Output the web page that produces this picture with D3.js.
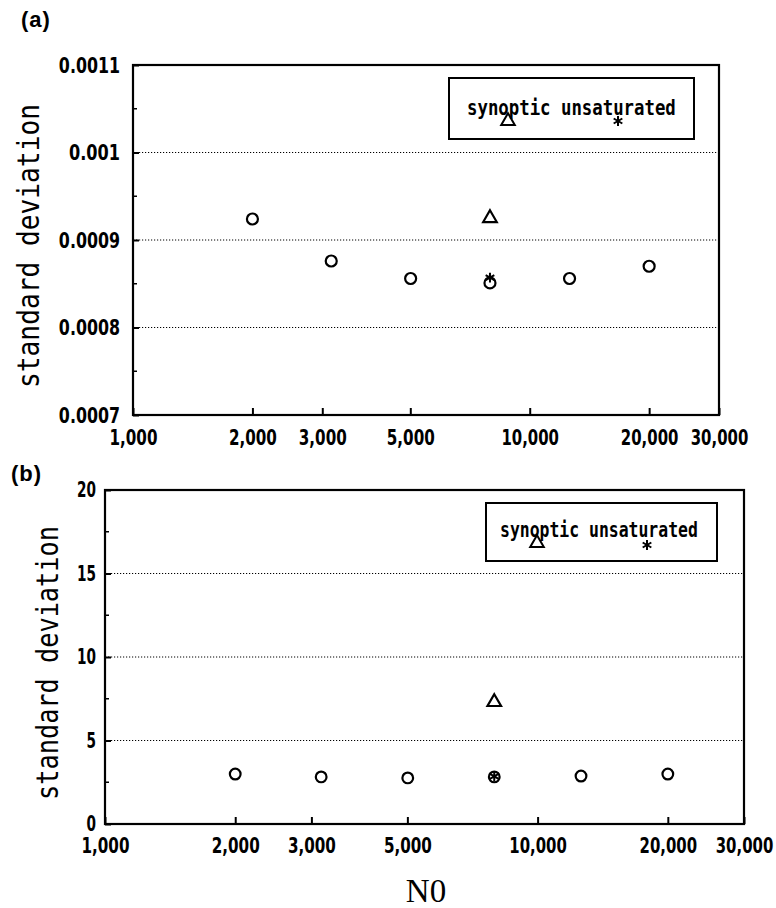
<!DOCTYPE html>
<html><head><meta charset="utf-8">
<script src="https://cdn.jsdelivr.net/npm/d3@7"></script>
<style>
html,body{margin:0;padding:0;background:#fff;}
svg{display:block;}
</style></head>
<body>
<svg id="chart" width="776" height="908"></svg>
<script>
// ---------- data ----------
const n0 = [2000, 3160, 5010, 7940, 12600, 20000];
const xTicks = [1000, 2000, 3000, 5000, 10000, 20000, 30000];
const xTickLabels = ["1,000", "2,000", "3,000", "5,000", "10,000", "20,000", "30,000"];

// panel (a)
const sdA_unsat = [0.000924, 0.000876, 0.000856, 0.000851, 0.000856, 0.00087];
const sdA_synX = [7940];
const sdA_syn = [0.000925];
const sdA_starX = [7940];
const sdA_star = [0.000857];
const yTicksA = [0.0007, 0.0008, 0.0009, 0.001, 0.0011];
const yTickLabelsA = ["0.0007", "0.0008", "0.0009", "0.001", "0.0011"];
const yMinorA = [0.00075, 0.00085, 0.00095, 0.00105];

// panel (b)
const sdB_unsat = [2.99, 2.82, 2.76, 2.82, 2.87, 2.99];
const sdB_synX = [7940];
const sdB_syn = [7.3];
const sdB_starX = [7940];
const sdB_star = [2.85];
const yTicksB = [0, 5, 10, 15, 20];
const yTickLabelsB = ["0", "5", "10", "15", "20"];
const yMinorB = [2.5, 7.5, 12.5, 17.5];

const legendText = "synoptic unsaturated";
const yTitle = "standard deviation";
const xTitle = "N0";

// ---------- drawing ----------
const svg = d3.select("#chart");
const tickFont = "'DejaVu Sans','Liberation Sans',sans-serif";

// horizontally condense a text element to a target width using a transform
function condense(node, target, base) {
  const w = node.getComputedTextLength();
  const s = Math.min(1, target / w);
  const t = d3.select(node);
  const x = +(t.attr("x") || 0);
  t.attr("x", x / s).attr("transform", (base ? base + " " : "") + `scale(${s},1)`);
}
function squeeze(sel, charW) {
  sel.each(function () { condense(this, this.textContent.length * charW); });
}

function panel(cfg) {
  const x = d3.scaleLog().domain([1000, 30000]).range([cfg.left, cfg.right]);
  const y = d3.scaleLinear().domain(cfg.yDomain).range([cfg.bottom, cfg.top]);
  const g = svg.append("g");

  // gridlines (dotted)
  g.append("g").selectAll("line").data(cfg.yTicks.slice(1, -1)).join("line")
    .attr("x1", cfg.left).attr("x2", cfg.right)
    .attr("y1", d => y(d)).attr("y2", d => y(d))
    .attr("stroke", "#000").attr("stroke-width", 1)
    .attr("stroke-dasharray", "1.2,1.8");

  // x axis
  const xa = g.append("g").attr("transform", `translate(0,${cfg.bottom})`)
    .call(d3.axisBottom(x).tickValues(xTicks)
      .tickFormat((d, i) => xTickLabels[i])
      .tickSizeInner(-7).tickSizeOuter(0).tickPadding(cfg.xPad));
  xa.select(".domain").remove();
  xa.selectAll("line").attr("stroke-width", 2);
  xa.selectAll("text").attr("font-family", tickFont).attr("font-size", cfg.xFont)
    .attr("font-weight", "bold").attr("fill", "#000");
  squeeze(xa.selectAll("text"), cfg.xCharW);

  // y axis
  const ya = g.append("g").attr("transform", `translate(${cfg.left},0)`)
    .call(d3.axisLeft(y).tickValues(cfg.yTicks)
      .tickFormat((d, i) => cfg.yLabels[i])
      .tickSizeInner(-6).tickSizeOuter(0).tickPadding(cfg.yPad));
  ya.select(".domain").remove();
  ya.selectAll("line").attr("stroke-width", 2);
  ya.selectAll("text").attr("font-family", tickFont).attr("font-size", cfg.yFont)
    .attr("font-weight", "bold").attr("fill", "#000");
  squeeze(ya.selectAll("text"), cfg.yCharW);

  // minor y ticks
  g.append("g").selectAll("line").data(cfg.yMinor).join("line")
    .attr("x1", cfg.left).attr("x2", cfg.left + 4)
    .attr("y1", d => y(d)).attr("y2", d => y(d))
    .attr("stroke", "#000").attr("stroke-width", 1.5);

  // frame
  g.append("rect").attr("x", cfg.left).attr("y", cfg.top)
    .attr("width", cfg.right - cfg.left).attr("height", cfg.bottom - cfg.top)
    .attr("fill", "none").attr("stroke", "#000").attr("stroke-width", 2.2);

  // y title
  const yt = g.append("text")
    .attr("text-anchor", "middle")
    .attr("font-family", "'DejaVu Sans Mono','Liberation Mono',monospace")
    .attr("font-size", 30).attr("fill", "#000")
    .text(yTitle);
  condense(yt.node(), cfg.titleLen, `translate(${cfg.titleX},${cfg.titleY}) rotate(-90)`);

  // panel label
  g.append("text").attr("x", cfg.labX).attr("y", cfg.labY)
    .attr("font-family", "'Liberation Sans',Arial,sans-serif").attr("font-weight", "bold")
    .attr("font-size", 22).attr("letter-spacing", 1).attr("fill", "#000").text(cfg.label);

  // legend
  const L = cfg.legend;
  g.append("rect").attr("x", L.x).attr("y", L.y).attr("width", L.w).attr("height", L.h)
    .attr("fill", "#fff").attr("stroke", "#000").attr("stroke-width", 2);
  const lt = g.append("text").attr("x", L.tx).attr("y", L.ty)
    .attr("font-family", "'DejaVu Sans Mono','Liberation Mono',monospace")
    .attr("font-weight", "bold").attr("font-size", L.fs).attr("fill", "#000")
    .text(legendText);
  condense(lt.node(), L.tl);

  const tri = d3.symbol().type(d3.symbolTriangle).size(cfg.triSize);
  const circ = d3.symbol().type(d3.symbolCircle).size(cfg.circSize);
  const star = d3.symbol().type(d3.symbolAsterisk).size(cfg.starSize);

  g.append("path").attr("d", tri()).attr("transform", `translate(${L.triX},${L.triY})`)
    .attr("fill", "none").attr("stroke", "#000").attr("stroke-width", 2);
  g.append("path").attr("d", star()).attr("transform", `translate(${L.starX},${L.starY})`)
    .attr("fill", "none").attr("stroke", "#000").attr("stroke-width", 2);

  // data: unsaturated (circles)
  g.append("g").selectAll("path").data(n0.map((v, i) => [v, cfg.unsat[i]])).join("path")
    .attr("d", circ()).attr("transform", d => `translate(${x(d[0])},${y(d[1])})`)
    .attr("fill", "none").attr("stroke", "#000").attr("stroke-width", 2.2);
  // synoptic (triangles)
  g.append("g").selectAll("path").data(cfg.synX.map((v, i) => [v, cfg.syn[i]])).join("path")
    .attr("d", tri()).attr("transform", d => `translate(${x(d[0])},${y(d[1])})`)
    .attr("fill", "none").attr("stroke", "#000").attr("stroke-width", 2.2);
  // asterisk
  g.append("g").selectAll("path").data(cfg.starX.map((v, i) => [v, cfg.star[i]])).join("path")
    .attr("d", star()).attr("transform", d => `translate(${x(d[0])},${y(d[1])})`)
    .attr("fill", "none").attr("stroke", "#000").attr("stroke-width", 2);
}

panel({
  left: 133, right: 719, top: 65, bottom: 415,
  yDomain: [0.0007, 0.0011], yTicks: yTicksA, yLabels: yTickLabelsA, yMinor: yMinorA,
  xPad: 14, xFont: 22, xCharW: 9.6, yPad: 13, yFont: 22, yCharW: 10.2,
  titleX: 39, titleY: 246, titleLen: 284,
  label: "(a)", labX: 21, labY: 27,
  legend: { x: 449, y: 78, w: 245, h: 61, tx: 467, ty: 115, fs: 22, tl: 209,
            triX: 508, triY: 121, starX: 618, starY: 121 },
  triSize: 80, circSize: 95, starSize: 70,
  unsat: sdA_unsat, synX: sdA_synX, syn: sdA_syn, starX: sdA_starX, star: sdA_star
});

panel({
  left: 105, right: 744, top: 490, bottom: 824,
  yDomain: [0, 20], yTicks: yTicksB, yLabels: yTickLabelsB, yMinor: yMinorB,
  xPad: 13, xFont: 22, xCharW: 9.6, yPad: 9, yFont: 21, yCharW: 9.5,
  titleX: 58, titleY: 663, titleLen: 274,
  label: "(b)", labX: 11, labY: 481,
  legend: { x: 486, y: 503, w: 231, h: 58, tx: 500, ty: 537, fs: 21, tl: 198,
            triX: 537, triY: 543, starX: 647, starY: 545 },
  triSize: 80, circSize: 90, starSize: 70,
  unsat: sdB_unsat, synX: sdB_synX, syn: sdB_syn, starX: sdB_starX, star: sdB_star
});

svg.append("text").attr("x", 426).attr("y", 902).attr("text-anchor", "middle")
  .attr("font-family", "'Liberation Serif','Times New Roman',serif")
  .attr("font-size", 33).attr("fill", "#000").text(xTitle);
</script>
</body></html>
